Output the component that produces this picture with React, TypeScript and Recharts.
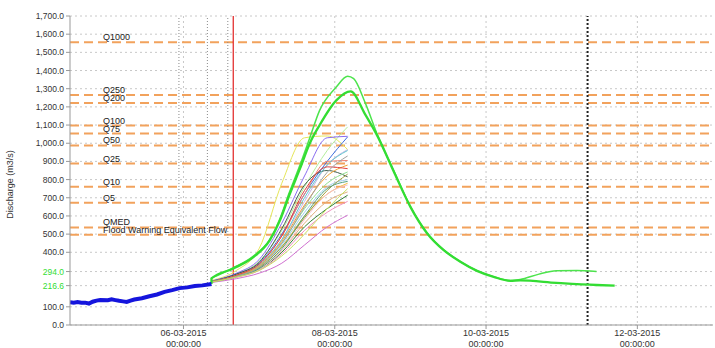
import { CartesianGrid, Line, LineChart, ReferenceLine, XAxis, YAxis } from 'recharts';

// time axis is in days of March 2015 (6 = 06-03-2015 00:00)
const xTicks = [6, 8, 10, 12];
const yTicks = [0, 100, 216.6, 294, 400, 500, 600, 700, 800, 900, 1000, 1100, 1200, 1300, 1400, 1500, 1600, 1700];
const greenTicks = [216.6, 294];

const thresholdNames = ['Q1000', 'Q250', 'Q200', 'Q100', 'Q75', 'Q50', 'Q25', 'Q10', 'Q5', 'QMED', 'Flood Warning Equivalent Flow'];
const thresholdValues = [1556, 1265, 1221, 1097, 1053, 988, 888, 760, 672, 537, 496];

const observedDays = [4.5, 4.55, 4.6, 4.65, 4.7, 4.75, 4.8, 4.85, 4.9, 5.0, 5.05, 5.1, 5.15, 5.2, 5.25, 5.3, 5.35, 5.45, 5.55, 5.65, 5.75, 5.85, 5.95, 6.05, 6.15, 6.25, 6.37];
const observedValues = [125, 123, 126, 122, 123, 118, 128, 134, 138, 136, 141, 137, 133, 130, 127, 134, 140, 147, 158, 168, 182, 192, 203, 207, 214, 218, 226];

const mainDays = [6.37, 6.37, 6.66, 6.92, 7.14, 7.27, 7.4, 7.54, 7.67, 7.8, 8.02, 8.21, 8.4, 8.57, 8.79, 9.0, 9.22, 9.44, 9.66, 9.88, 10.1, 10.32, 10.45, 10.93, 11.46, 11.7];
const mainValues = [226, 256, 311, 372, 465, 570, 715, 860, 1000, 1100, 1236, 1285, 1160, 1035, 835, 650, 505, 412, 348, 298, 265, 243, 245, 232, 220, 216.6];

const upperDays = [6.37, 6.66, 6.92, 7.14, 7.27, 7.4, 7.54, 7.67, 7.8, 8.02, 8.17, 8.25, 8.4, 8.57, 8.79, 9.0, 9.22, 9.44, 9.66, 9.88, 10.1, 10.32, 10.45, 10.7, 10.93, 11.2, 11.46];
const upperValues = [258, 315, 378, 470, 580, 730, 880, 1030, 1181, 1309, 1368, 1355, 1225, 1040, 840, 652, 507, 413, 349, 299, 266, 245, 250, 280, 298, 300, 294];

const memberDays = [6.37, 6.7, 7.0, 7.3, 7.6, 7.9, 8.17];
const memberValues = [
  [245, 300, 420, 780, 1030, 1040, 965],
  [240, 280, 350, 520, 760, 960, 1090],
  [242, 285, 360, 560, 820, 1030, 1038],
  [240, 280, 340, 500, 720, 900, 1035],
  [240, 275, 330, 470, 680, 880, 965],
  [238, 275, 335, 490, 720, 900, 905],
  [240, 280, 345, 530, 770, 850, 815],
  [238, 270, 320, 430, 600, 720, 780],
  [238, 272, 325, 450, 640, 780, 842],
  [236, 265, 305, 400, 540, 640, 714],
  [236, 268, 310, 410, 560, 680, 732],
  [237, 270, 315, 440, 620, 760, 800],
  [236, 262, 300, 390, 520, 620, 680],
  [234, 255, 285, 340, 440, 540, 604],
  [238, 272, 330, 470, 700, 880, 960],
  [238, 272, 325, 460, 660, 820, 880],
  [237, 268, 315, 430, 590, 740, 830],
  [236, 265, 305, 410, 580, 720, 770],
  [237, 266, 310, 420, 600, 750, 790],
  [238, 274, 335, 490, 740, 870, 860],
  [237, 268, 318, 450, 650, 840, 930],
  [236, 264, 300, 380, 500, 640, 750],
];
const memberColors = [
  '#e6e65a', '#b4ee9c', '#8a6cf0', '#3d6de0', '#c8b4e8', '#f08070', '#406050', '#f0c040',
  '#90e090', '#2e7d32', '#e0b080', '#a0d0f0', '#f090c0', '#d070d0', '#60c8d0', '#f0a030',
  '#a0a040', '#f8c0d0', '#50a080', '#e04040', '#a0a0a0', '#c8e060',
];

const pairs = (days: number[], values: number[]) => days.map((d, i) => ({ d, v: values[i] }));

const font = '"Liberation Sans", Arial, sans-serif';

const fmtDate = (d: number) => `${String(d).padStart(2, '0')}-03-2015`;

function XTick({ x, y, payload }: any) {
  return (
    <text x={x} y={y} textAnchor="middle" fontFamily={font} fontSize={9} fill="#333">
      <tspan x={x} dy={5}>{fmtDate(payload.value)}</tspan>
      <tspan x={x} dy={11}>00:00:00</tspan>
    </text>
  );
}

function YTick({ x, y, payload }: any) {
  const green = greenTicks.includes(payload.value);
  const label = payload.value.toLocaleString('en-US', { minimumFractionDigits: 1, maximumFractionDigits: 1 });
  return (
    <text x={x} y={y} dy={3} textAnchor="end" fontFamily={font} fontSize={8.5} fill={green ? '#33dd33' : '#333'}>
      {label}
    </text>
  );
}

const thresholdLabel = (text: string) => (props: any) => {
  const vb = props.viewBox;
  return (
    <text x={vb.x + 33} y={vb.y - 2} fontFamily={font} fontSize={9} fill="#222">
      {text}
    </text>
  );
};

export default function App() {
  return (
    <div style={{ position: 'absolute', left: 0, top: 0 }}>
      <LineChart width={715} height={348} margin={{ top: 16, right: 2, bottom: 0, left: 0 }}>
        <CartesianGrid stroke="#c8c8c8" strokeDasharray="2 3" horizontalValues={yTicks} verticalValues={xTicks} />
        <XAxis
          dataKey="d"
          type="number"
          domain={[4.5, 13]}
          ticks={xTicks}
          tick={<XTick />}
          tickSize={4}
          tickMargin={2}
          height={23}
          stroke="#999"
          allowDataOverflow
        />
        <YAxis
          type="number"
          domain={[0, 1700]}
          ticks={yTicks}
          tick={<YTick />}
          tickSize={4}
          tickMargin={2}
          width={70}
          stroke="#999"
          interval={0}
          label={{ value: 'Discharge (m3/s)', angle: -90, position: 'insideLeft', offset: 10, dy: 14, style: { fontFamily: font, fontSize: 9, fill: '#333', textAnchor: 'middle' } }}
        />
        {thresholdValues.map((v, i) => (
          <ReferenceLine
            key={thresholdNames[i]}
            y={v}
            stroke="#f2a25c"
            strokeWidth={2}
            strokeDasharray="9 5"
            label={thresholdLabel(thresholdNames[i])}
          />
        ))}
        <ReferenceLine x={5.94} stroke="#8a8a8a" strokeDasharray="1 2" />
        <ReferenceLine x={6.316} stroke="#8a8a8a" strokeDasharray="1 2" />
        <ReferenceLine x={6.586} stroke="#8a8a8a" strokeDasharray="1 2" />
        <ReferenceLine x={6.658} stroke="#e02020" strokeWidth={1.2} />
        <ReferenceLine x={11.342} stroke="#222" strokeWidth={2} strokeDasharray="2 2" />
        {memberValues.map((vals, i) => (
          <Line
            key={`m${i}`}
            data={pairs(memberDays, vals)}
            dataKey="v"
            type="monotone"
            stroke={memberColors[i]}
            strokeWidth={1}
            dot={false}
            isAnimationActive={false}
          />
        ))}
        <Line data={pairs(upperDays, upperValues)} dataKey="v" type="monotone" stroke="#4ce44c" strokeWidth={1.5} dot={false} isAnimationActive={false} />
        <Line data={pairs(mainDays, mainValues)} dataKey="v" type="monotone" stroke="#33dd33" strokeWidth={2.3} dot={false} isAnimationActive={false} />
        <Line data={pairs(observedDays, observedValues)} dataKey="v" type="linear" stroke="#1515dd" strokeWidth={4} dot={false} isAnimationActive={false} />
      </LineChart>
    </div>
  );
}
